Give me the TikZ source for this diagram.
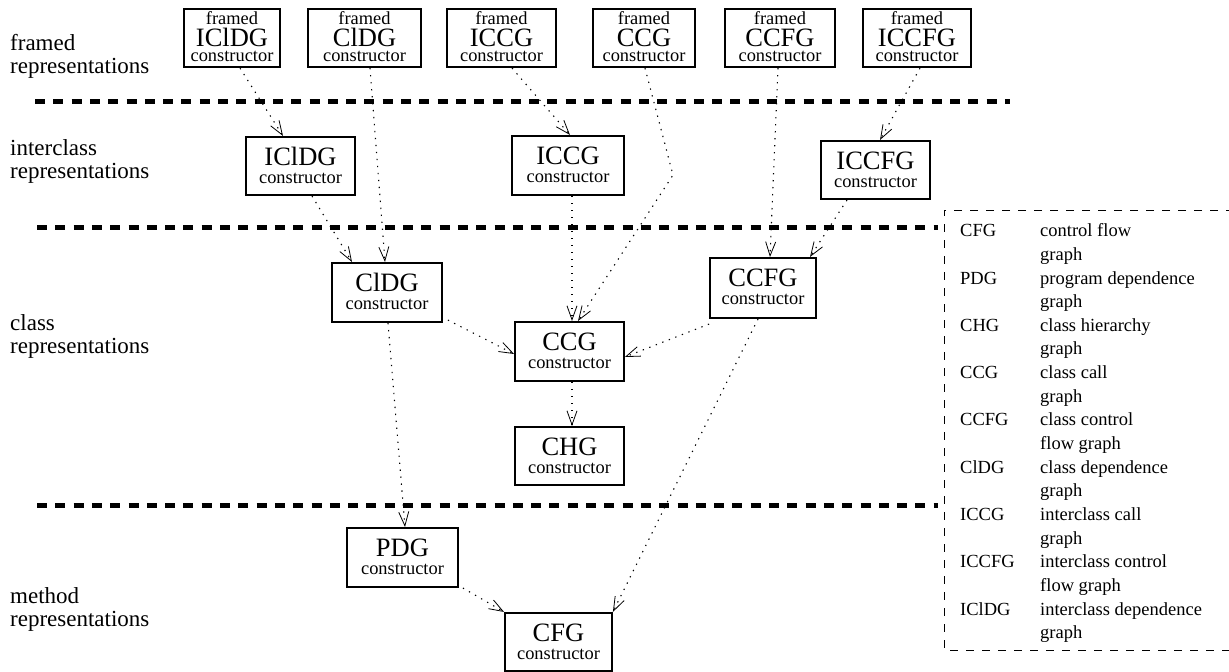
\documentclass[tikz,border=0pt]{standalone}
\usepackage{fontspec}
\setmainfont{Liberation Serif}
\usetikzlibrary{arrows.meta}

\newcommand\namefont{\fontsize{26.5pt}{30pt}\selectfont}
\newcommand\ctorfont{\fontsize{18.4pt}{22pt}\selectfont}

% three stacked lines of a framed constructor box (58pt tall)
\newcommand\framedlabel[1]{\vbox{\offinterlineskip\halign{\hfil##\hfil\cr
  \vrule height 15.7pt width 0pt\ctorfont framed\cr
  \vrule height 21.7pt width 0pt\namefont #1\cr
  \vrule height 15pt depth 5.6pt width 0pt\ctorfont constructor\cr}}}
% two stacked lines of a constructor box; #2 is the space below the last baseline
\newcommand\ctorlabel[2]{\vbox{\offinterlineskip\halign{\hfil##\hfil\cr
  \vrule height 29pt width 0pt\namefont #1\cr
  \vrule height 17pt depth #2pt width 0pt\ctorfont constructor\cr}}}

\tikzset{
  cbox/.style={draw, line width=1.8pt, inner sep=0pt},
  sidetxt/.style={font=\fontsize{23pt}{27pt}\selectfont, anchor=base west, inner sep=0pt},
  legtxt/.style={font=\fontsize{18.5pt}{22pt}\selectfont, anchor=base west, inner sep=0pt},
  flow/.style={line width=1.1pt, dash pattern=on 1.3pt off 5.7pt,
    -{Straight Barb[length=14pt,width=10pt,line width=0.8pt]}},
  layer/.style={line width=5pt, dash pattern=on 10pt off 8.3pt},
  keyframe/.style={line width=1pt, dash pattern=on 8pt off 8pt},
}

% framed constructor: name, centre x, width, graph name
\newcommand\framedctor[4]{%
  \node[cbox, minimum width=#3pt] (#1) at (#2,38) {\framedlabel{#4}};
}
% plain constructor: name, centre x, centre y, width, depth below last line, graph name
\newcommand\ctor[6]{%
  \node[cbox, minimum width=#4pt] (#1) at (#2,#3) {\ctorlabel{#6}{#5}};
}

\begin{document}
\begin{tikzpicture}[x=1pt,y=-1pt]
\useasboundingbox (0,0) rectangle (1229,672);

% layer separators
\draw[layer] (35,101) -- (1010,101);
\draw[layer] (37,227) -- (938,227);
\draw[layer] (37,505) -- (938,505);

% layer names
\node[sidetxt] (lay1a) at (10,50) {framed};
\node[sidetxt] (lay1b) at (10,73) {representations};
\node[sidetxt] (lay2a) at (10,155) {interclass};
\node[sidetxt] (lay2b) at (10,178) {representations};
\node[sidetxt] (lay3a) at (10,330) {class};
\node[sidetxt] (lay3b) at (10,353) {representations};
\node[sidetxt] (lay4a) at (10,603) {method};
\node[sidetxt] (lay4b) at (10,626) {representations};

% framed representations
\framedctor{fIClDG}{232}{96}{IClDG}
\framedctor{fClDG}{364.5}{113}{ClDG}
\framedctor{fICCG}{501.5}{109}{ICCG}
\framedctor{fCCG}{644}{102}{CCG}
\framedctor{fCCFG}{780}{110}{CCFG}
\framedctor{fICCFG}{917}{108}{ICCFG}

% interclass representations
\ctor{iIClDG}{300.5}{166}{109}{12}{IClDG}
\ctor{iICCG}{568}{165.5}{112}{13}{ICCG}
\ctor{iICCFG}{875.5}{170}{109}{12}{ICCFG}

% class representations
\ctor{cClDG}{387}{292.5}{110}{13}{ClDG}
\ctor{cCCFG}{763}{288}{106}{14}{CCFG}
\ctor{cCCG}{569.5}{351.5}{109}{13}{CCG}
\ctor{cCHG}{569.5}{456}{109}{12}{CHG}

% method representations
\ctor{mPDG}{402.5}{557.5}{111}{13}{PDG}
\ctor{mCFG}{558.5}{642}{107}{12}{CFG}

% dependences between constructors
\coordinate (kink) at (673,175);
\draw[flow] ([xshift=8pt]fIClDG.south) -- ([xshift=-17.5pt]iIClDG.north);
\draw[flow] ([xshift=5.5pt]fClDG.south) -- ([xshift=-2pt]cClDG.north);
\draw[flow] ([xshift=10.5pt]fICCG.south) -- ([xshift=2pt]iICCG.north);
\draw[flow] ([xshift=1pt]fCCG.south) -- (kink) -- ([xshift=8.5pt]cCCG.north);
\draw[flow] ([xshift=-2pt]fCCFG.south) -- ([xshift=7pt]cCCFG.north);
\draw[flow] ([xshift=3pt]fICCFG.south) -- ([xshift=4.5pt]iICCFG.north);
\draw[flow] ([xshift=11.5pt]iIClDG.south) -- ([xshift=-35pt]cClDG.north);
\draw[flow] ([xshift=4pt]iICCG.south) -- ([xshift=2.5pt]cCCG.north);
\draw[flow] ([xshift=-28.5pt]iICCFG.south) -- ([xshift=47pt]cCCFG.north);
\draw[flow] ([xshift=5pt,yshift=3pt]cClDG.south east) -- ([yshift=-2.5pt]cCCG.west);
\draw[flow] ([yshift=-5pt]cCCFG.south west) -- ([yshift=-5.5pt]cCCG.east);
\draw[flow] ([xshift=2.5pt]cCCG.south) -- ([xshift=2.5pt]cCHG.north);
\draw[flow] ([xshift=1pt]cClDG.south) -- ([xshift=2.5pt]mPDG.north);
\draw[flow] ([xshift=-5pt]cCCFG.south) -- (mCFG.north east);
\draw[flow] ([xshift=4pt]mPDG.south east) -- (mCFG.north west);

% key of abbreviations
\draw[keyframe] (1234,210) -- (944,210) -- (944,650) -- (1234,650);
\foreach \ab/\da/\db [count=\i from 0] in {CFG/control flow/graph,
    PDG/program dependence/graph, CHG/class hierarchy/graph,
    CCG/class call/graph, CCFG/class control/flow graph,
    ClDG/class dependence/graph, ICCG/interclass call/graph,
    ICCFG/interclass control/flow graph, IClDG/interclass dependence/graph}
{
  \pgfmathsetmacro\yy{236.7+47.3*\i}
  \node[legtxt] (key-\i) at (960,\yy) {\ab};
  \node[legtxt] (def-\i) at (1040,\yy) {\da};
  \node[legtxt] (more-\i) at (1040,\yy+23.65) {\db};
}
\end{tikzpicture}
\end{document}
